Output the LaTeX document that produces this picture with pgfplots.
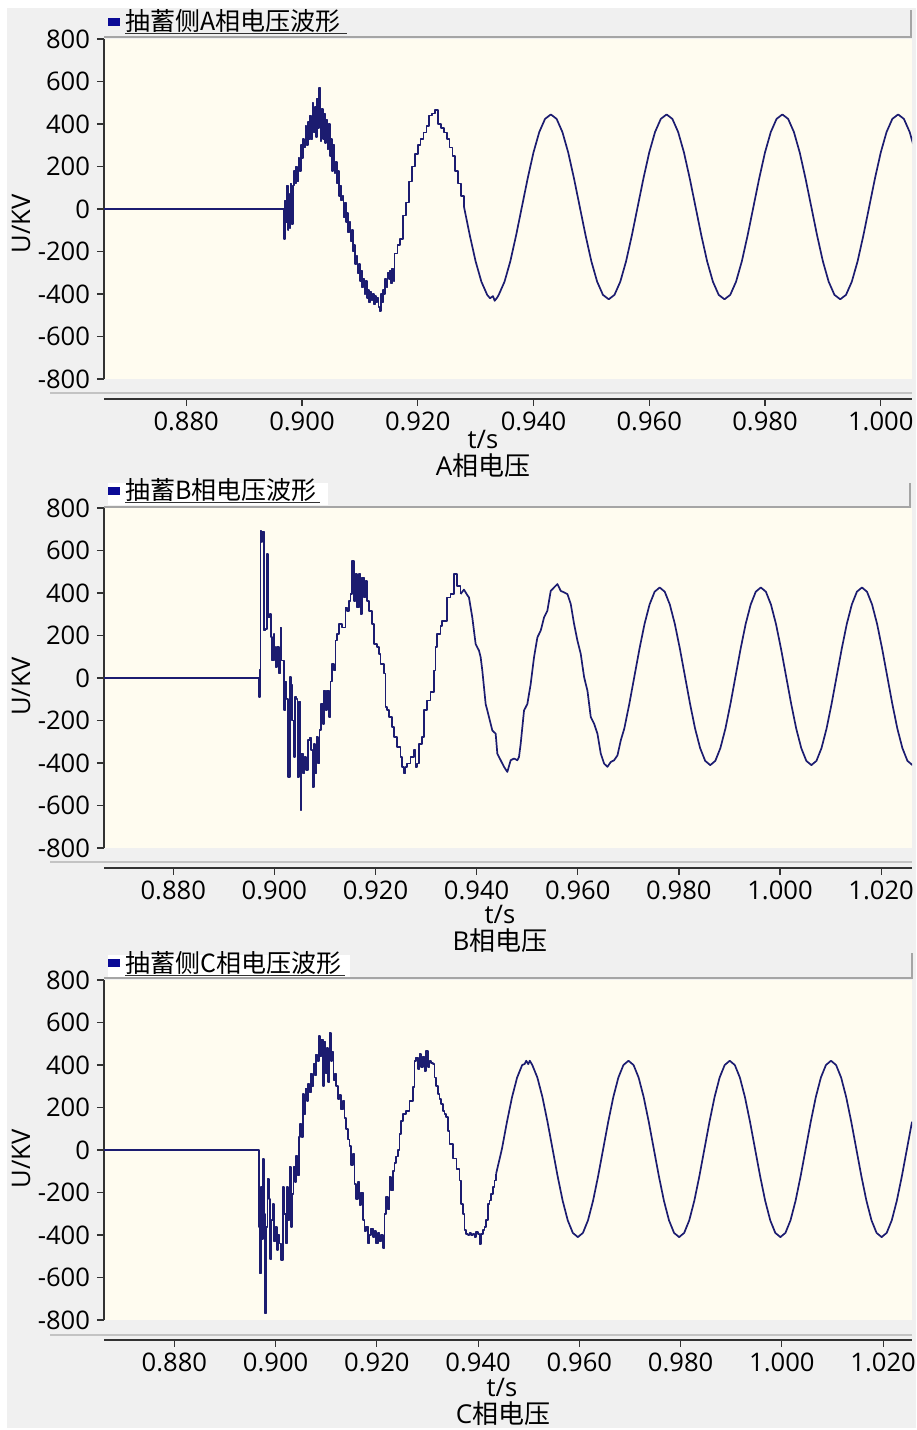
\documentclass[border=0pt]{standalone}
\usepackage{fontspec}
\setmainfont{Open Sans}
\newfontfamily\cjk{Noto Sans CJK SC}
\usepackage{pgfplots}
\pgfplotsset{compat=1.18}
\definecolor{bgGray}{RGB}{240,240,240}
\definecolor{cream}{RGB}{255,252,240}
\definecolor{wave}{RGB}{28,28,112}
\definecolor{legnavy}{RGB}{10,10,150}
\definecolor{axisdark}{RGB}{50,50,50}
\definecolor{hdrline}{RGB}{165,165,165}
\definecolor{lightline}{RGB}{195,195,195}
\newcommand{\tickfont}{\fontsize{12.8}{15}\selectfont}
\pgfplotsset{
  panel/.style={
    scale only axis, width=404pt, height=170pt,
    anchor=south west,
    ymin=-800, ymax=800, ytick={-800,-600,-400,-200,0,200,400,600,800},
    axis x line*=bottom, axis y line*=left,
    axis x line shift=10pt,
    axis background/.style={fill=cream},
    tick align=outside, major tick length=3.5pt,
    tick style={axisdark, line width=0.6pt},
    axis line style={axisdark, line width=0.8pt},
    every tick label/.append style={font=\tickfont, text=black},
    /pgf/number format/assume math mode=true,
    xticklabel style={inner ysep=1pt, yshift=-2pt, /pgf/number format/fixed, /pgf/number format/fixed zerofill, /pgf/number format/precision=3},
    yticklabel style={/pgf/number format/fixed, /pgf/number format/precision=0},
    scaled ticks=false,
  },
  wv/.style={wave, line width=0.85pt, line join=round, mark=none},
}
\begin{document}
\begin{tikzpicture}
\path[use as bounding box, fill=white] (0pt,0pt) rectangle (458pt,715pt);
\fill[bgGray] (3.5pt,1pt) rectangle (458pt,711pt);

% ---------------- Panel A ----------------
\begin{axis}[panel, at={(52pt,525.5pt)}, xmin=0.8658, xmax=1.0054,
  xtick={0.88,0.9,0.92,0.94,0.96,0.98,1.0}]
\addplot[wv, const plot] coordinates {
(0.8658,0) (0.89695,-140) (0.89710,40) (0.89725,-60) (0.89740,110) (0.89755,-100) (0.89770,70) (0.89785,-90) (0.89800,120) (0.89820,-70) (0.89840,110) (0.89860,180) (0.89880,120) (0.89900,200) (0.89920,130) (0.89940,240) (0.89960,180) (0.89980,300) (0.90000,240) (0.90020,330) (0.90040,290) (0.90060,390) (0.90080,300) (0.90100,410) (0.90120,330) (0.90140,440) (0.90160,330) (0.90180,500) (0.90200,360) (0.90220,480) (0.90240,340) (0.90260,520) (0.90280,380) (0.90300,570) (0.90320,320) (0.90340,470) (0.90360,330) (0.90380,450) (0.90400,310) (0.90420,420) (0.90440,280) (0.90460,400) (0.90480,250) (0.90500,330) (0.90520,180) (0.90540,300) (0.90560,170) (0.90580,220) (0.90600,120) (0.90620,180) (0.90640,60) (0.90660,110) (0.90680,40) (0.90700,60) (0.90720,-40) (0.90740,30) (0.90760,-60) (0.90780,-20) (0.90800,-110) (0.90820,-60) (0.90840,-150) (0.90860,-100) (0.90880,-200) (0.90900,-170) (0.90920,-260) (0.90940,-220) (0.90960,-300) (0.90980,-260) (0.91000,-340) (0.91020,-290) (0.91040,-370) (0.91060,-330) (0.91080,-400) (0.91100,-340) (0.91120,-420) (0.91140,-380) (0.91160,-440) (0.91180,-390) (0.91200,-430) (0.91220,-400) (0.91240,-450) (0.91260,-410) (0.91280,-440) (0.91300,-420) (0.91320,-460) (0.91340,-480) (0.91360,-400) (0.91380,-440) (0.91400,-380) (0.91420,-400) (0.91440,-330) (0.91460,-370) (0.91480,-300) (0.91500,-330) (0.91520,-290) (0.91540,-350) (0.91560,-280) (0.91580,-340) (0.91600,-210) (0.91650,-170) (0.91700,-140) (0.91750,-30) (0.91800,30) (0.91850,130) (0.91900,200) (0.91950,260) (0.92000,300) (0.92050,330) (0.92100,360) (0.92150,390) (0.92200,440) (0.92250,450) (0.92300,465) (0.92350,400) (0.92400,380) (0.92450,360) (0.92500,330) (0.92550,290) (0.92600,250) (0.92650,180) (0.92700,120) (0.92750,60) (0.92800,10)
};
\addplot[wv] coordinates {
(0.928,10) (0.929,-124) (0.930,-246) (0.931,-342) (0.932,-404) (0.9325,-420) (0.933,-410) (0.9333,-432) (0.9337,-418) (0.934,-404) (0.935,-342) (0.936,-246) (0.937,-124) (0.938,10) (0.939,144) (0.940,266) (0.941,362) (0.942,424) (0.943,445) (0.944,424) (0.945,362) (0.946,266) (0.947,144) (0.948,10) (0.949,-124) (0.950,-246) (0.951,-342) (0.952,-404) (0.953,-425) (0.954,-404) (0.955,-342) (0.956,-246) (0.957,-124) (0.958,10) (0.959,144) (0.960,266) (0.961,362) (0.962,424) (0.963,445) (0.964,424) (0.965,362) (0.966,266) (0.967,144) (0.968,10) (0.969,-124) (0.970,-246) (0.971,-342) (0.972,-404) (0.973,-425) (0.974,-404) (0.975,-342) (0.976,-246) (0.977,-124) (0.978,10) (0.979,144) (0.980,266) (0.981,362) (0.982,424) (0.983,445) (0.984,424) (0.985,362) (0.986,266) (0.987,144) (0.988,10) (0.989,-124) (0.990,-246) (0.991,-342) (0.992,-404) (0.993,-425) (0.994,-404) (0.995,-342) (0.996,-246) (0.997,-124) (0.998,10) (0.999,144) (1.000,266) (1.001,362) (1.002,424) (1.003,445) (1.004,424) (1.005,362) (1.006,266)
};
\end{axis}

% ---------------- Panel B ----------------
\begin{axis}[panel, at={(52pt,291pt)}, xmin=0.8663, xmax=1.0261,
  xtick={0.88,0.9,0.92,0.94,0.96,0.98,1.0,1.02}]
\addplot[wv, const plot] coordinates {
(0.8663,0) (0.89690,-90) (0.89710,40) (0.89723,692) (0.89743,640) (0.89760,690) (0.89790,223) (0.89822,230) (0.89855,584) (0.89875,285) (0.89908,300) (0.89934,192) (0.89954,82) (0.89987,207) (0.90000,145) (0.90020,51) (0.90053,145) (0.90086,21) (0.90119,238) (0.90139,82) (0.90185,-152) (0.90218,-16) (0.90238,-100) (0.90271,-465) (0.90304,4) (0.90330,-30) (0.90350,-200) (0.90383,-371) (0.90403,-90) (0.90436,-100) (0.90455,-465) (0.90482,-110) (0.90515,-621) (0.90535,-356) (0.90568,-450) (0.90594,-371) (0.90627,-434) (0.90660,-293) (0.90700,-280) (0.90726,-340) (0.90752,-512) (0.90779,-309) (0.90805,-450) (0.90832,-278) (0.90858,-403) (0.90891,-246) (0.90924,-121) (0.90957,-215) (0.90977,-59) (0.91010,-152) (0.91043,-59) (0.91082,-184) (0.91109,-16) (0.91142,67) (0.91175,35) (0.91208,176) (0.91241,207) (0.91274,254) (0.91340,238) (0.91406,332) (0.91439,316) (0.91472,363) (0.91505,394) (0.91538,551) (0.91571,363) (0.91604,488) (0.91637,332) (0.91670,488) (0.91703,301) (0.91736,473) (0.91769,379) (0.91802,457) (0.91835,363) (0.91868,316) (0.91934,254) (0.91967,160) (0.92033,145) (0.92066,113) (0.92099,67) (0.92165,21) (0.92198,-137) (0.92231,-152) (0.92264,-184) (0.92330,-230) (0.92363,-278) (0.92429,-324) (0.92495,-371) (0.92528,-418) (0.92561,-449) (0.92594,-418) (0.92627,-403) (0.92693,-371) (0.92759,-340) (0.92792,-418) (0.92825,-403) (0.92858,-309) (0.92924,-278) (0.92957,-152) (0.93023,-106) (0.93089,-67) (0.93155,35) (0.93188,145) (0.93221,207) (0.93287,246) (0.93320,269) (0.93419,379) (0.93485,395) (0.93551,489) (0.93618,434) (0.93683,395)
};
\addplot[wv] coordinates {
(0.93683,395) (0.93749,416) (0.93815,390) (0.93848,379) (0.93914,285) (0.93980,160) (0.94046,129) (0.94079,98) (0.94112,35) (0.94178,-122) (0.94244,-184) (0.94310,-247) (0.94376,-262) (0.94409,-356) (0.94475,-387) (0.94541,-418) (0.94607,-442) (0.94673,-387) (0.94739,-379) (0.94805,-387) (0.94838,-371) (0.94871,-309) (0.94937,-153) (0.95003,-122) (0.95069,-28) (0.95135,98) (0.95201,191) (0.95267,223) (0.95333,285) (0.95399,317) (0.95465,410) (0.95531,426) (0.95597,442) (0.95663,410) (0.95729,403) (0.95795,395) (0.95861,348) (0.95927,254) (0.95993,176) (0.96059,113) (0.96125,4) (0.96191,-59) (0.96257,-184) (0.96323,-215) (0.96389,-262) (0.96455,-356) (0.96521,-403) (0.96587,-418) (0.96653,-395) (0.96719,-387) (0.96785,-364) (0.96851,-293)
(0.9692,-238) (0.9702,-121) (0.9712,8) (0.9722,137) (0.9732,254) (0.9742,346) (0.9752,406) (0.9762,426) (0.9772,406) (0.9782,346) (0.9792,254) (0.9802,137) (0.9812,8) (0.9822,-121) (0.9832,-238) (0.9842,-330) (0.9852,-390) (0.9862,-410) (0.9872,-390) (0.9882,-330) (0.9892,-238) (0.9902,-121) (0.9912,8) (0.9922,137) (0.9932,254) (0.9942,346) (0.9952,406) (0.9962,426) (0.9972,406) (0.9982,346) (0.9992,254) (1.0002,137) (1.0012,8) (1.0022,-121) (1.0032,-238) (1.0042,-330) (1.0052,-390) (1.0062,-410) (1.0072,-390) (1.0082,-330) (1.0092,-238) (1.0102,-121) (1.0112,8) (1.0122,137) (1.0132,254) (1.0142,346) (1.0152,406) (1.0162,426) (1.0172,406) (1.0182,346) (1.0192,254) (1.0202,137) (1.0212,8) (1.0222,-121) (1.0232,-238) (1.0242,-330) (1.0252,-390) (1.0262,-410)
};
\end{axis}

% ---------------- Panel C ----------------
\begin{axis}[panel, at={(52pt,55pt)}, xmin=0.8661, xmax=1.0257,
  xtick={0.88,0.9,0.92,0.94,0.96,0.98,1.0,1.02}]
\addplot[wv, const plot] coordinates {
(0.8661,0) (0.89671,-362) (0.89684,-581) (0.89710,-175) (0.89737,-420) (0.89757,-41) (0.89776,-300) (0.89796,-769) (0.89816,-362) (0.89842,-135) (0.89869,-230) (0.89895,-512) (0.89921,-330) (0.89947,-253) (0.89974,-430) (0.90000,-362) (0.90026,-470) (0.90053,-400) (0.90079,-440) (0.90112,-519) (0.90145,-175) (0.90171,-300) (0.90198,-440) (0.90224,-175) (0.90250,-330) (0.90276,-81) (0.90303,-362) (0.90329,-206) (0.90355,-81) (0.90382,-150) (0.90408,-29) (0.90434,-120) (0.90461,60) (0.90487,123) (0.90513,60) (0.90539,264) (0.90566,170) (0.90592,290) (0.90618,230) (0.90645,310) (0.90671,270) (0.90697,360) (0.90724,300) (0.90750,404) (0.90776,350) (0.90803,450) (0.90829,420) (0.90855,537) (0.90882,440) (0.90908,520) (0.90934,300) (0.90961,510) (0.90987,360) (0.91013,480) (0.91040,320) (0.91066,550) (0.91092,420) (0.91119,460) (0.91145,330) (0.91171,360) (0.91197,300) (0.91230,240) (0.91263,260) (0.91296,190) (0.91329,230) (0.91362,150) (0.91395,100) (0.91427,50) (0.91460,20) (0.91493,-70) (0.91526,-20) (0.91559,-160) (0.91592,-230) (0.91625,-150) (0.91658,-260) (0.91691,-200) (0.91723,-330) (0.91756,-380) (0.91789,-360) (0.91822,-440) (0.91855,-400) (0.91888,-370) (0.91921,-410) (0.91954,-380) (0.91987,-440) (0.92019,-390) (0.92052,-430) (0.92085,-400) (0.92118,-460) (0.92151,-300) (0.92184,-222) (0.92217,-280) (0.92250,-128) (0.92283,-190) (0.92315,-100) (0.92348,-60) (0.92381,-30) (0.92414,0) (0.92447,76) (0.92480,138) (0.92513,170) (0.92579,185) (0.92644,232) (0.92710,295) (0.92743,420) (0.92776,435) (0.92809,380) (0.92842,451) (0.92875,390) (0.92907,440) (0.92940,373) (0.92973,466) (0.93006,390) (0.93039,420) (0.93072,410) (0.93105,404) (0.93138,341) (0.93171,300) (0.93203,264) (0.93236,240) (0.93269,217) (0.93302,185) (0.93335,170) (0.93368,154) (0.93401,90) (0.93434,29) (0.93500,-40) (0.93570,-90) (0.93631,-143) (0.93664,-253) (0.93697,-300) (0.93730,-378) (0.93762,-394) (0.93795,-401) (0.93828,-390) (0.93861,-401) (0.93894,-394) (0.93927,-409) (0.93960,-385) (0.93993,-394) (0.94026,-441) (0.94059,-394) (0.94092,-378) (0.94124,-362) (0.94157,-331) (0.94190,-253) (0.94223,-237) (0.94256,-206) (0.94289,-175) (0.94322,-143) (0.94355,-112)
};
\addplot[wv] coordinates {
(0.94355,-112) (0.9447,5) (0.9457,133) (0.9467,249) (0.9477,341) (0.9487,400) (0.9492,405) (0.9495,420) (0.9499,404) (0.9502,420) (0.9507,400) (0.9517,341) (0.9527,249) (0.9537,133) (0.9547,5) (0.9557,-123) (0.9567,-239) (0.9577,-331) (0.9587,-390) (0.9597,-410) (0.9607,-390) (0.9617,-331) (0.9627,-239) (0.9637,-123) (0.9647,5) (0.9657,133) (0.9667,249) (0.9677,341) (0.9687,400) (0.9697,420) (0.9707,400) (0.9717,341) (0.9727,249) (0.9737,133) (0.9747,5) (0.9757,-123) (0.9767,-239) (0.9777,-331) (0.9787,-390) (0.9797,-410) (0.9807,-390) (0.9817,-331) (0.9827,-239) (0.9837,-123) (0.9847,5) (0.9857,133) (0.9867,249) (0.9877,341) (0.9887,400) (0.9897,420) (0.9907,400) (0.9917,341) (0.9927,249) (0.9937,133) (0.9947,5) (0.9957,-123) (0.9967,-239) (0.9977,-331) (0.9987,-390) (0.9997,-410) (1.0007,-390) (1.0017,-331) (1.0027,-239) (1.0037,-123) (1.0047,5) (1.0057,133) (1.0067,249) (1.0077,341) (1.0087,400) (1.0097,420) (1.0107,400) (1.0117,341) (1.0127,249) (1.0137,133) (1.0147,5) (1.0157,-123) (1.0167,-239) (1.0177,-331) (1.0187,-390) (1.0197,-410) (1.0207,-390) (1.0217,-331) (1.0227,-239) (1.0237,-123) (1.0247,5) (1.0257,133)
};
\end{axis}

% ---------------- decorations ----------------
\draw[lightline, line width=0.7pt] (25pt,518.5pt) -- (456pt,518.5pt);
\draw[lightline, line width=0.7pt] (25pt,284pt) -- (456pt,284pt);
\draw[lightline, line width=0.7pt] (25pt,47.5pt) -- (456pt,47.5pt);
\draw[hdrline, line width=0.7pt] (52pt,696.5pt) -- (455.5pt,696.5pt) -- (455.5pt,710pt);
\draw[hdrline, line width=0.7pt] (52pt,461.5pt) -- (455pt,461.5pt) -- (455pt,473.5pt);
\draw[hdrline, line width=0.7pt] (52pt,226pt) -- (456pt,226pt) -- (456pt,238.5pt);
\fill[white] (54pt,462.5pt) rectangle (164pt,473.5pt);
\fill[white] (54pt,226.6pt) rectangle (175pt,237.5pt);
\fill[legnavy] (54pt,702pt) rectangle (60pt,706pt);
\fill[legnavy] (54pt,467.5pt) rectangle (60pt,471.5pt);
\fill[legnavy] (54pt,231.5pt) rectangle (60pt,235.5pt);
\node[anchor=base west, inner sep=0pt, font=\cjk\fontsize{12.5}{14}\selectfont] at (62.5pt,699.9pt) {抽蓄侧A相电压波形};
\node[anchor=base west, inner sep=0pt, font=\cjk\fontsize{12.5}{14}\selectfont] at (62.5pt,465pt) {抽蓄B相电压波形};
\node[anchor=base west, inner sep=0pt, font=\cjk\fontsize{12.5}{14}\selectfont] at (62.5pt,228.9pt) {抽蓄侧C相电压波形};
\draw[axisdark, line width=0.5pt] (62.5pt,698.3pt) -- (173.5pt,698.3pt);
\draw[axisdark, line width=0.5pt] (62.5pt,463.6pt) -- (160pt,463.6pt);
\draw[axisdark, line width=0.5pt] (62.5pt,227.2pt) -- (172.5pt,227.2pt);
\node[rotate=90, inner sep=0pt, font=\tickfont] at (10.5pt,603pt) {U/KV};
\node[rotate=90, inner sep=0pt, font=\tickfont] at (10.5pt,371.75pt) {U/KV};
\node[rotate=90, inner sep=0pt, font=\tickfont] at (10.5pt,135.5pt) {U/KV};
\node[inner sep=0pt, font=\tickfont] at (241.5pt,495.5pt) {t/s};
\node[inner sep=0pt, font=\tickfont] at (250pt,258pt) {t/s};
\node[inner sep=0pt, font=\tickfont] at (251pt,21.5pt) {t/s};
\node[inner sep=0pt, font=\fontsize{13}{15}\selectfont] at (241.5pt,482pt) {A{\cjk 相电压}};
\node[inner sep=0pt, font=\fontsize{13}{15}\selectfont] at (250pt,244.5pt) {B{\cjk 相电压}};
\node[inner sep=0pt, font=\fontsize{13}{15}\selectfont] at (251.5pt,8pt) {C{\cjk 相电压}};
\end{tikzpicture}
\end{document}
